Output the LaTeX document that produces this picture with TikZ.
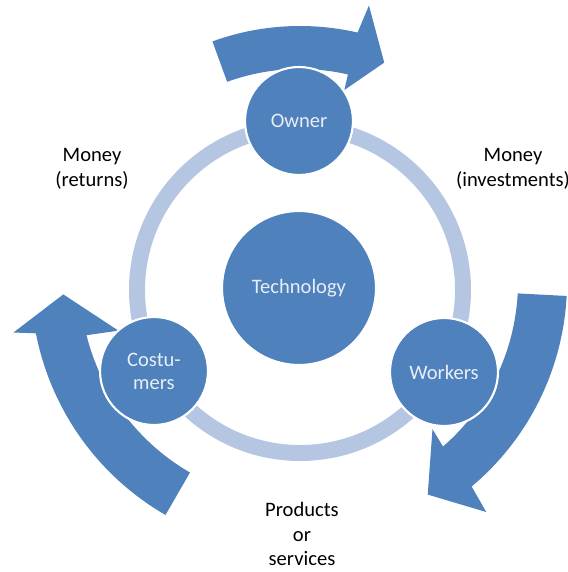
\documentclass[tikz,border=0pt]{standalone}
\usepackage{fontspec}
\setmainfont{Carlito}
\definecolor{cycleblue}{RGB}{79,129,189}
\definecolor{ringblue}{RGB}{180,198,226}
\definecolor{textlight}{RGB}{232,238,246}
\begin{document}
\begin{tikzpicture}[x=0.02cm, y=0.02cm,
	party/.style={circle, fill=cycleblue, draw=white, line width=1.2pt, minimum size=2.16cm, align=center, text=textlight, font=\fontsize{11.7}{13}\selectfont},
	flow/.style={fill=cycleblue},
	flowlabel/.style={align=center, font=\fontsize{11.7}{14}\selectfont}]
	\useasboundingbox (0,0) rectangle (568,572);
	% big curved arrows
	\begin{scope}[shift={(300,290)}]
		\fill[flow] (110:256) arc[start angle=110, end angle=77, radius=256] -- (76:285) -- (69:235) -- (77:197) -- (77:213) arc[start angle=77, end angle=110, radius=213] -- cycle;
		\fill[flow] (-3:267) arc[start angle=-3, end angle=-50, radius=267] -- (-51:296) -- (-59:248) -- (-48:198) -- (-49:218) arc[start angle=-49, end angle=-3, radius=218] -- cycle;
		\fill[flow] (240:269) arc[start angle=240, end angle=191, radius=269] -- (190:291) -- (183:237) -- (195:188) -- (194:220) arc[start angle=194, end angle=240, radius=220] -- cycle;
	\end{scope}
	% ring
	\draw[ringblue, line width=0.32cm] (300,282) circle[radius=163];
	\node[party, minimum size=3.08cm] (Technology) at (299,284) {Technology};
	\node[party] (Owner) at (299,451) {Owner};
	\node[party] (Workers) at (444,200) {Workers};
	\node[party] (Costumers) at (154,201) {Costu-\\mers};
	\node[flowlabel] (Returns) at (92,403) {Money\\(returns)};
	\node[flowlabel] (Investments) at (513,403) {Money\\(investments)};
	\node[flowlabel] (Products) at (302,38) {Products\\or\\services};
\end{tikzpicture}
\end{document}
